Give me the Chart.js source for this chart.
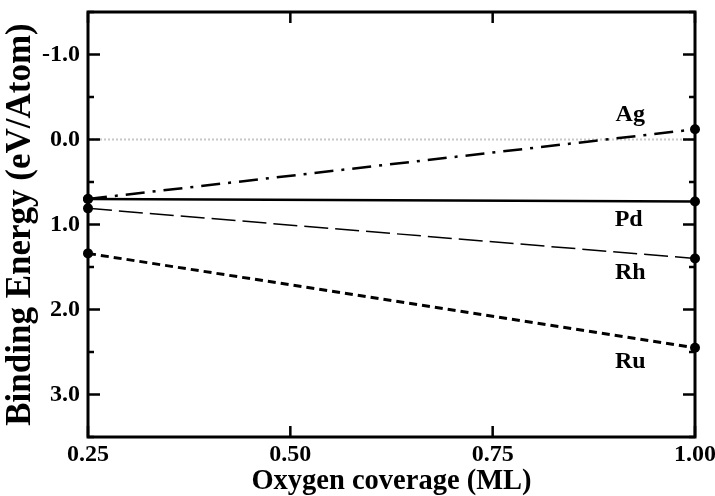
<!DOCTYPE html>
<html>
<head>
<meta charset="utf-8">
<script src="https://cdn.jsdelivr.net/npm/chart.js@4.4.0/dist/chart.umd.min.js"></script>
<style>
  html, body { margin: 0; padding: 0; background: #fff; }
  #wrap { width: 715px; height: 496px; }
</style>
</head>
<body>
<div id="wrap"><canvas id="chart" width="715" height="496"></canvas></div>
<script>
// coverage values (ML)
const coverage = [0.25, 1.00];
// binding energies (eV/Atom), y axis is reversed
const agEnergy = [0.70, -0.12];
const pdEnergy = [0.70, 0.73];
const rhEnergy = [0.81, 1.40];
const ruEnergy = [1.34, 2.45];

const xTicks = [0.25, 0.50, 0.75, 1.00];
const yMajorTicks = [-1.0, 0.0, 1.0, 2.0, 3.0];
const yMinorTicks = [-1.5, -0.5, 0.5, 1.5, 2.5, 3.5];

// series labels placed in data coordinates
const labelNames = ["Ag", "Pd", "Rh", "Ru"];
const labelX = [0.92, 0.918, 0.92, 0.92];
const labelY = [-0.29, 0.95, 1.57, 2.61];

const serif = "'Liberation Serif', 'Times New Roman', serif";

function pts(ys) {
  return coverage.map((x, i) => ({ x: x, y: ys[i] }));
}

// inward tick marks on all four sides + zero line + series labels
const decorPlugin = {
  id: "decor",
  beforeDatasetsDraw(chart) {
    const { ctx, chartArea: a, scales } = chart;
    const y0 = scales.y.getPixelForValue(0);
    ctx.save();
    ctx.strokeStyle = "#c8c8c8";
    ctx.lineWidth = 2;
    ctx.setLineDash([2, 2]);
    ctx.beginPath();
    ctx.moveTo(a.left, y0);
    ctx.lineTo(a.right, y0);
    ctx.stroke();
    ctx.restore();
  },
  afterDraw(chart) {
    const { ctx, chartArea: a, scales } = chart;
    ctx.save();
    ctx.strokeStyle = "#000";
    ctx.lineWidth = 2.5;
    ctx.beginPath();
    yMajorTicks.forEach((v) => {
      const y = scales.y.getPixelForValue(v);
      ctx.moveTo(a.left, y); ctx.lineTo(a.left + 12, y);
      ctx.moveTo(a.right, y); ctx.lineTo(a.right - 12, y);
    });
    yMinorTicks.forEach((v) => {
      const y = scales.y.getPixelForValue(v);
      ctx.moveTo(a.left, y); ctx.lineTo(a.left + 6, y);
      ctx.moveTo(a.right, y); ctx.lineTo(a.right - 6, y);
    });
    xTicks.forEach((v) => {
      const x = scales.x.getPixelForValue(v);
      ctx.moveTo(x, a.bottom); ctx.lineTo(x, a.bottom - 11);
      ctx.moveTo(x, a.top); ctx.lineTo(x, a.top + 11);
    });
    ctx.stroke();
    ctx.lineWidth = 3;
    ctx.strokeRect(a.left, a.top, a.right - a.left, a.bottom - a.top);

    ctx.fillStyle = "#000";
    ctx.font = "bold 24px " + serif;
    ctx.textAlign = "center";
    ctx.textBaseline = "middle";
    labelNames.forEach((name, i) => {
      ctx.fillText(name, scales.x.getPixelForValue(labelX[i]), scales.y.getPixelForValue(labelY[i]));
    });
    ctx.restore();
  },
};

const common = {
  showLine: true,
  clip: false,
  borderColor: "#000",
  backgroundColor: "#000",
  pointRadius: 5,
  pointHoverRadius: 5,
  pointBorderWidth: 0,
  fill: false,
};

new Chart(document.getElementById("chart"), {
  type: "scatter",
  data: {
    datasets: [
      { ...common, label: "Ag", data: pts(agEnergy), borderWidth: 2.5, borderDash: [19, 8, 3, 8] },
      { ...common, label: "Pd", data: pts(pdEnergy), borderWidth: 2.5 },
      { ...common, label: "Rh", data: pts(rhEnergy), borderWidth: 1.5, borderDash: [24, 7] },
      { ...common, label: "Ru", data: pts(ruEnergy), borderWidth: 3, borderDash: [8, 5] },
    ],
  },
  options: {
    responsive: false,
    animation: false,
    layout: { padding: { top: 12, right: 20, left: 0, bottom: 0 } },
    plugins: { legend: { display: false }, tooltip: { enabled: false } },
    scales: {
      x: {
        type: "linear",
        min: 0.25,
        max: 1.0,
        afterBuildTicks: (scale) => { scale.ticks = xTicks.map((v) => ({ value: v })); },
        afterFit: (scale) => {
          scale.height = 59;
          scale.paddingLeft = 0;
          scale.paddingRight = 0;
        },
        grid: { display: false, drawTicks: false },
        border: { display: false },
        ticks: {
          padding: 3,
          color: "#000",
          font: { family: serif, weight: "bold", size: 24 },
          callback: (v) => v.toFixed(2),
          maxRotation: 0,
        },
        title: {
          display: true,
          text: "Oxygen coverage (ML)",
          color: "#000",
          font: { family: serif, weight: "bold", size: 28.5, lineHeight: 1.0 },
          padding: { top: 0, bottom: 0 },
        },
      },
      y: {
        type: "linear",
        reverse: true,
        min: -1.5,
        max: 3.5,
        afterBuildTicks: (scale) => { scale.ticks = yMajorTicks.map((v) => ({ value: v })); },
        afterFit: (scale) => {
          scale.width = 88;
          scale.paddingTop = 0;
          scale.paddingBottom = 0;
        },
        grid: { display: false, drawTicks: false },
        border: { display: false },
        ticks: {
          padding: 8,
          color: "#000",
          font: { family: serif, weight: "bold", size: 24 },
          callback: (v) => v.toFixed(1),
        },
        title: {
          display: true,
          text: "Binding Energy (eV/Atom)",
          color: "#000",
          font: { family: serif, weight: "bold", size: 35 },
          padding: { top: 0, bottom: 0 },
        },
      },
    },
  },
  plugins: [decorPlugin],
});
</script>
</body>
</html>
